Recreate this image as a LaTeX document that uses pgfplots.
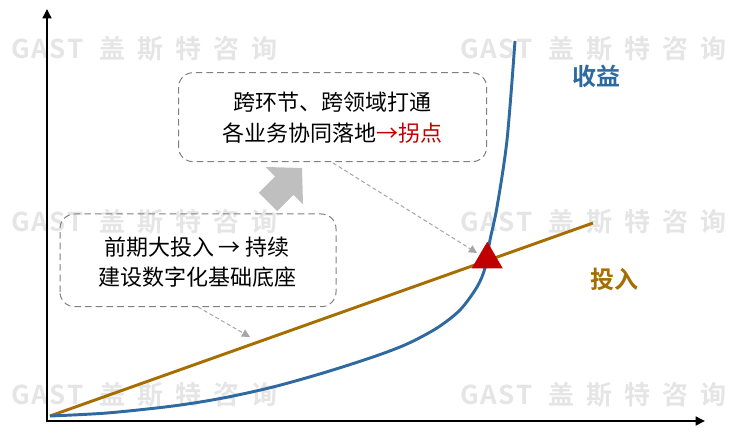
\documentclass[border=0pt]{standalone}
\usepackage{pgfplots}
\pgfplotsset{compat=1.18}
\usetikzlibrary{arrows.meta}
\usepackage{fontspec}
\setmainfont{Noto Sans CJK SC}
\newfontfamily\cjkb{Noto Sans CJK SC Bold}
\definecolor{wm}{RGB}{229,229,229}
\definecolor{cblue}{RGB}{46,105,160}
\definecolor{cbrown}{RGB}{166,110,0}
\definecolor{cred}{RGB}{192,0,0}
\definecolor{arrgray}{RGB}{191,191,191}
\definecolor{dgray}{RGB}{166,166,166}
\definecolor{boxgray}{RGB}{128,128,128}
\newcommand{\wmtext}{{\cjkb\fontsize{19.5pt}{22pt}\selectfont\color{wm}G\hspace{1pt}A\hspace{1pt}S\hspace{1pt}T\hspace{12pt}盖\hspace{9pt}斯\hspace{9pt}特\hspace{9pt}咨\hspace{9pt}询}}
\begin{document}
\begin{tikzpicture}
\begin{axis}[width=552.75pt, height=324pt, scale only axis,
  xmin=0, xmax=737, ymin=0, ymax=432, hide axis, clip=false]
\path (axis cs:0,0) rectangle (axis cs:737,432);
% watermarks
\node at (axis cs:144.5,383) {\wmtext};
\node at (axis cs:593.5,383) {\wmtext};
\node at (axis cs:144.5,210) {\wmtext};
\node at (axis cs:593.5,210) {\wmtext};
\node at (axis cs:144.5,37) {\wmtext};
\node at (axis cs:593.5,37) {\wmtext};
% axes
\addplot[black, line width=2pt, -{Triangle[length=7pt,width=6.5pt]}] coordinates {(47,10)(47,423)};
\addplot[black, line width=2pt, -{Triangle[length=7pt,width=6.5pt]}] coordinates {(46,11)(705,11)};
% investment line
\addplot[cbrown, line width=2.2pt] coordinates {(50,16)(593,209)};
% revenue curve
\addplot[cblue, line width=2.2pt, smooth, tension=0.5] coordinates {
(50,16)(107,19)(173,26)(223,34)(273,45)(323,59)(373,75)(407,88)(437,104)(460,122)(477,145)(485,164)(490,192)(497,225)(507,292)(515,391)};
% red triangle
\addplot[fill=cred, draw=none] coordinates {(487.3,190.3)(471.7,163.7)(502.7,163.7)(487.3,190.3)};
% grey block arrow
\addplot[fill=arrgray, draw=none] coordinates {(302,264)(303,227.6)(293.5,237.1)(277.3,220.9)(258.9,239.3)(275.1,255.5)(265.6,265)(302,264)};
% dashed arrows
\addplot[dgray, line width=0.75pt, dash pattern=on 3pt off 2pt, -{Triangle[length=6pt,width=6pt]}] coordinates {(333,269)(477,179)};
\addplot[dgray, line width=0.75pt, dash pattern=on 3pt off 2pt, -{Triangle[length=6pt,width=6pt]}] coordinates {(198,125)(250,95)};
% boxes
\draw[boxgray, line width=0.75pt, dash pattern=on 5pt off 3pt, rounded corners=11pt] (axis cs:178.5,270.3) rectangle (axis cs:486.7,359.3);
\draw[boxgray, line width=0.75pt, dash pattern=on 5pt off 3pt, rounded corners=11pt] (axis cs:60,125.3) rectangle (axis cs:336,218);
% box texts
\node[font=\fontsize{16.5pt}{20pt}\selectfont] at (axis cs:332,330.3) {跨环节、跨领域打通};
\node[font=\fontsize{16.5pt}{20pt}\selectfont] at (axis cs:332,298.7) {各业务协同落地\textcolor{cred}{→拐点}};
\node[font=\fontsize{16.5pt}{20pt}\selectfont] at (axis cs:197,185.3) {前期大投入 → 持续};
\node[font=\fontsize{16.5pt}{20pt}\selectfont] at (axis cs:197,155.3) {建设数字化基础底座};
% labels
\node[font=\cjkb\fontsize{18pt}{20pt}\selectfont, text=cblue] at (axis cs:596,356) {收益};
\node[font=\cjkb\fontsize{18pt}{20pt}\selectfont, text=cbrown] at (axis cs:614,153) {投入};
\end{axis}
\end{tikzpicture}
\end{document}
